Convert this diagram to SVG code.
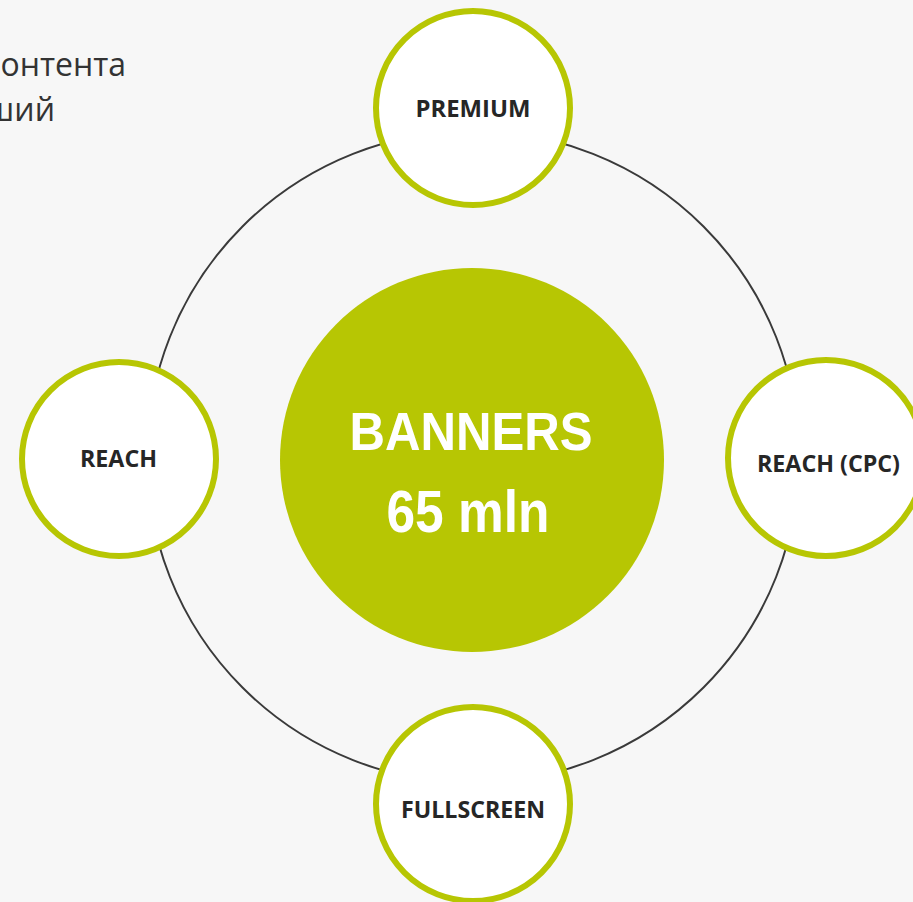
<svg xmlns="http://www.w3.org/2000/svg" width="913" height="902" viewBox="0 0 913 902">
<style>
.node circle{fill:#ffffff;stroke:#b7c603;stroke-width:6}
.lbl{font-family:"Open Sans","Liberation Sans",sans-serif;font-weight:bold;font-size:24px;fill:#262626;text-anchor:middle}
.side{font-family:"Open Sans","Liberation Sans",sans-serif;font-size:32px;fill:#333333;text-anchor:end}
.big{font-family:"Liberation Sans",sans-serif;font-weight:bold;fill:#ffffff;text-anchor:middle}
</style>
<rect width="913" height="902" fill="#f7f7f7"/>
<text class="side" x="126" y="76">онтента</text>
<text class="side" x="55" y="121">ший</text>
<g id="connectors">
<circle cx="473" cy="457" r="326" fill="none" stroke="#3a3a3a" stroke-width="2"/>
</g>
<g id="center">
<circle cx="472" cy="460" r="192" fill="#b7c603"/>
<text class="big" x="471" y="450" font-size="54" textLength="243" lengthAdjust="spacingAndGlyphs">BANNERS</text>
<text class="big" x="468" y="532" font-size="60" textLength="163" lengthAdjust="spacingAndGlyphs">65 mln</text>
</g>
<g id="premium" class="node">
<circle cx="473" cy="108" r="97"/>
<text class="lbl" x="473" y="117" textLength="115" lengthAdjust="spacingAndGlyphs">PREMIUM</text>
</g>
<g id="reach" class="node">
<circle cx="119" cy="459" r="97"/>
<text class="lbl" x="118.5" y="467" textLength="77" lengthAdjust="spacingAndGlyphs">REACH</text>
</g>
<g id="reach-cpc" class="node">
<circle cx="826" cy="458" r="98"/>
<text class="lbl" x="828.5" y="472" textLength="143" lengthAdjust="spacingAndGlyphs">REACH (CPC)</text>
</g>
<g id="fullscreen" class="node">
<circle cx="473" cy="804" r="97"/>
<text class="lbl" x="473" y="818" textLength="144" lengthAdjust="spacingAndGlyphs">FULLSCREEN</text>
</g>
</svg>
